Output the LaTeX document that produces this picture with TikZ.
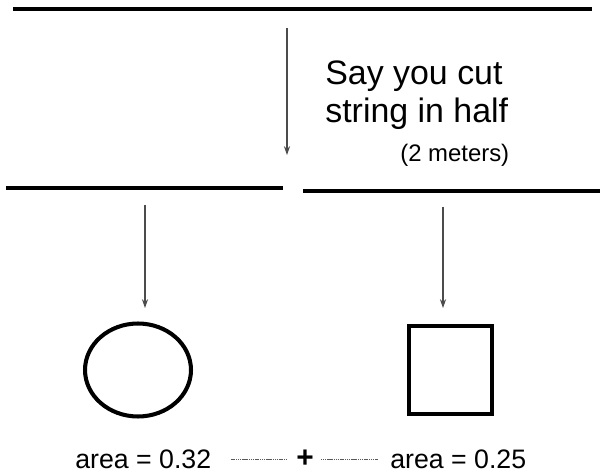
\documentclass[tikz,border=0pt]{standalone}
\usepackage{fontspec}
\setmainfont{Liberation Sans}
\usetikzlibrary{arrows.meta,shapes.geometric}
\tikzset{
  stringline/.style={line width=2.5pt},
  cutarrow/.style={draw=black!70, line width=0.6pt, -{Stealth[length=5pt,width=3.5pt]}},
  dotline/.style={draw=black!65, line width=0.5pt, dash pattern=on 0.7pt off 0.35pt},
  bigtext/.style={anchor=base west, inner sep=0pt, font=\fontsize{19.3}{23}\selectfont},
  smalltext/.style={anchor=base west, inner sep=0pt, font=\fontsize{13.6}{16}\selectfont},
  areatext/.style={anchor=base west, inner sep=0pt, font=\fontsize{15.2}{18}\selectfont},
  shapeline/.style={draw, line width=2.3pt, inner sep=0pt},
}

\begin{document}
\begin{tikzpicture}[x=0.02cm,y=-0.02cm]
    \useasboundingbox (0,0) rectangle (601,475);

    % Whole string
    \coordinate (whole-l) at (13,9);
    \coordinate (whole-r) at (592,9);
    \draw[stringline] (whole-l) -- (whole-r);

    % Cut arrow
    \coordinate (cut-top) at (287,28);
    \coordinate (cut-tip) at (287,155);
    \draw[cutarrow] (cut-top) -- (cut-tip);

    % Text
    \node[bigtext] (say1) at (325,85) {Say you cut};
    \node[bigtext] (say2) at (325,123) {string in half};
    \node[smalltext] (meters) at (400,162) {(2 meters)};

    % Two halves
    \coordinate (half1-l) at (6,188);
    \coordinate (half1-r) at (283,188);
    \coordinate (half2-l) at (303,191);
    \coordinate (half2-r) at (600,191);
    \draw[stringline] (half1-l) -- (half1-r);
    \draw[stringline] (half2-l) -- (half2-r);

    % Circle and square
    \node[shapeline, ellipse, minimum width=2.12cm, minimum height=1.86cm] (circ) at (138,370) {};
    \node[shapeline, rectangle, minimum width=1.66cm, minimum height=1.76cm] (sq) at (450.5,370) {};

    % Arrows to the shapes
    \coordinate (arr1-top) at (145,205);
    \coordinate (arr1-tip) at (145,308);
    \coordinate (arr2-top) at (443,207);
    \coordinate (arr2-tip) at (443,308);
    \draw[cutarrow] (arr1-top) -- (arr1-tip);
    \draw[cutarrow] (arr2-top) -- (arr2-tip);

    % Areas
    \node[areatext] (area1) at (75,468) {area = 0.32};
    \node[inner sep=0pt, font=\fontsize{17}{20}\selectfont\bfseries] (plus) at (305,459) {+};
    \node[areatext] (area2) at (390,468) {area = 0.25};
    \draw[dotline] ([xshift=0.38cm]area1.east |- plus) -- ([xshift=-0.2cm]plus.west);
    \draw[dotline] ([xshift=0.14cm]plus.east) -- ([xshift=-0.24cm]area2.west |- plus);

\end{tikzpicture}
\end{document}
